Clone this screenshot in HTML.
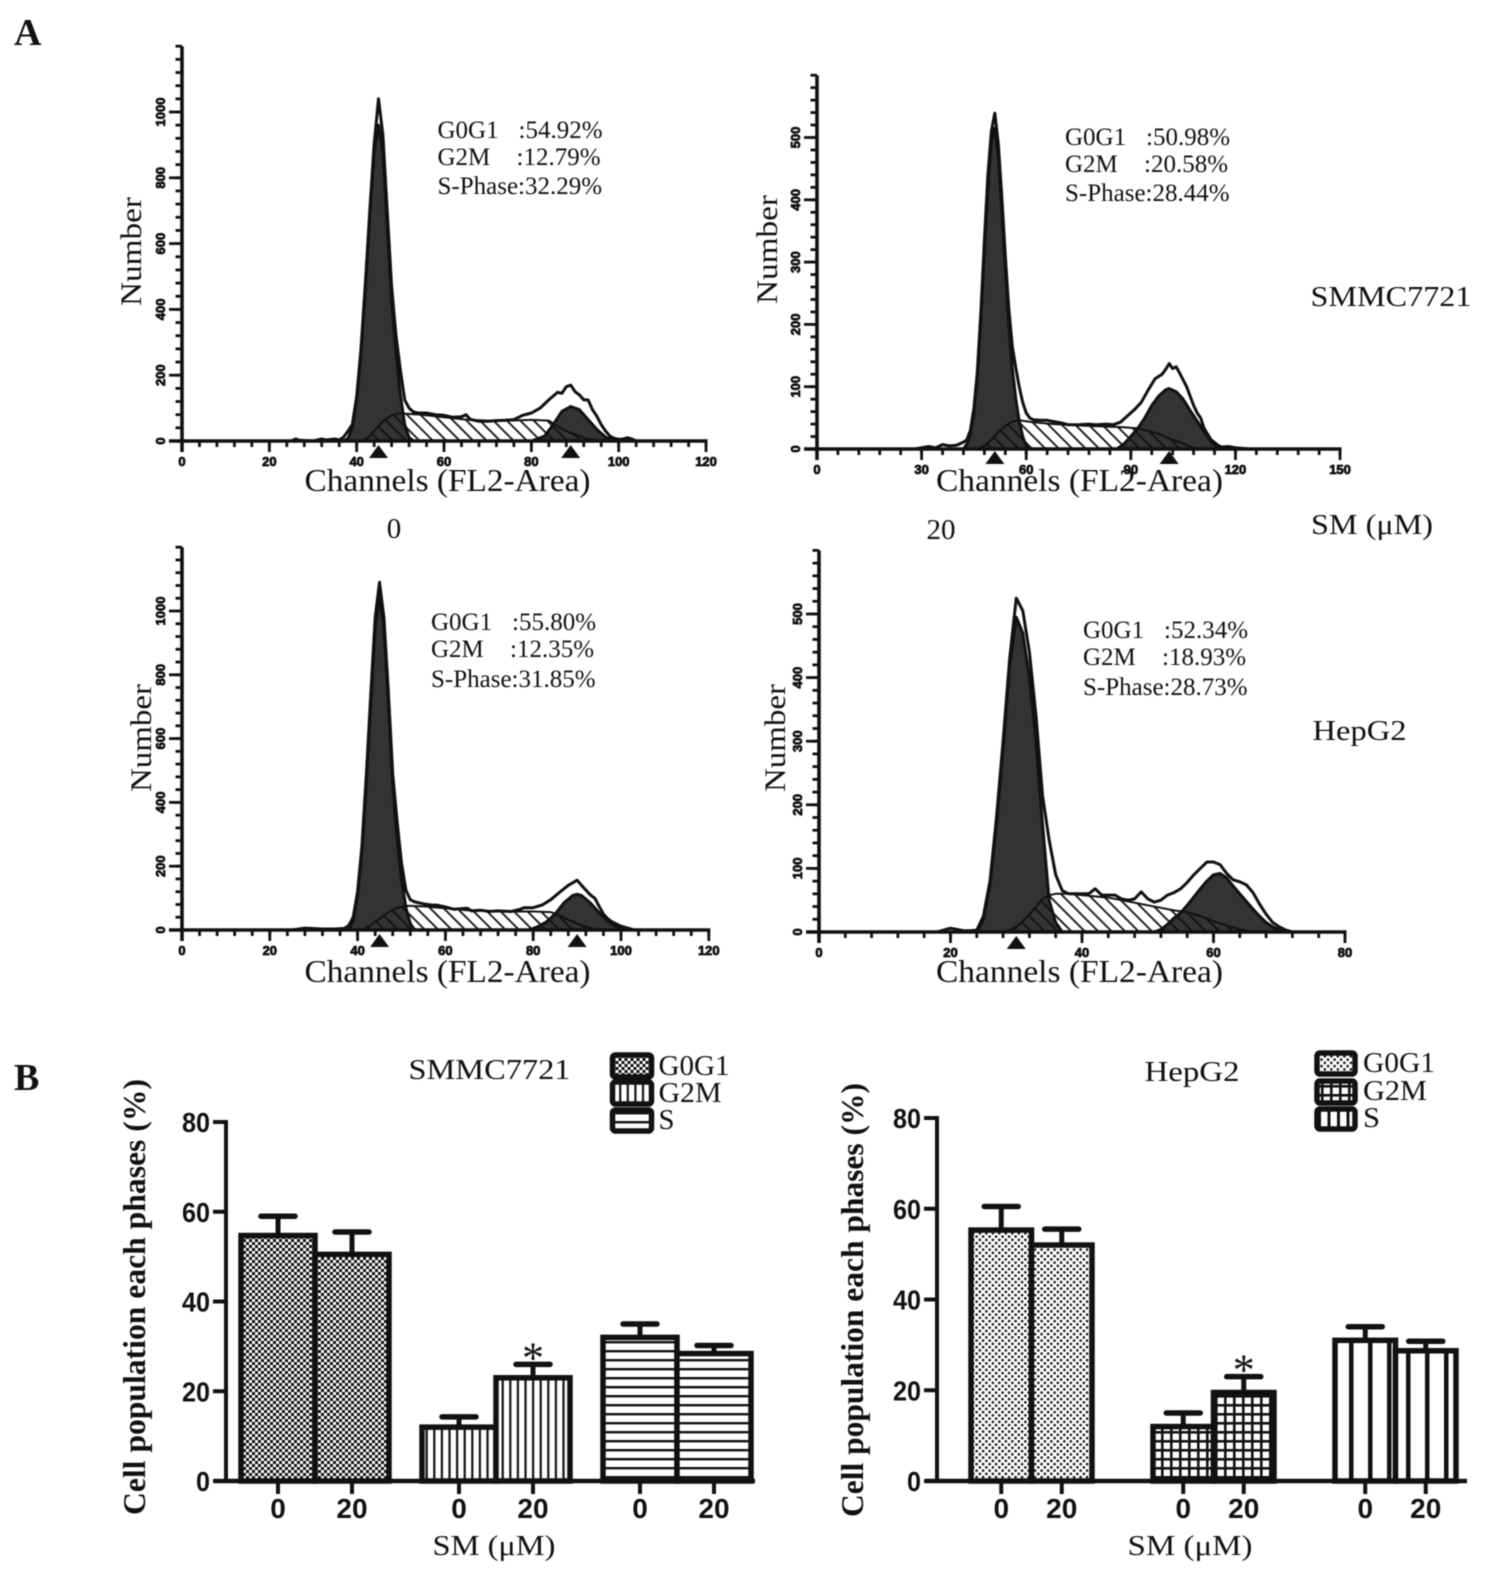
<!DOCTYPE html>
<html lang="en">
<head>
<meta charset="utf-8">
<title>Cell cycle distribution by flow cytometry</title>
<style>
html,body{margin:0;padding:0;background:#fff;}
#figure{display:block;width:1488px;height:1576px;filter:blur(.5px);}
text{font-family:"Liberation Serif",serif;fill:#111;}
.stat{font-size:25px;}
.chan{font-size:32px;}
.num{font-size:30px;}
.side{font-size:29px;}
.leg{font-size:28px;}
.ytitle{font-size:32px;font-weight:bold;}
</style>
</head>
<body>
<svg id="figure" xmlns="http://www.w3.org/2000/svg" width="1488" height="1576" viewBox="0 0 1488 1576">
<defs>
<pattern id="hatch" width="9.5" height="9.5" patternUnits="userSpaceOnUse" patternTransform="rotate(-45)"><line x1="4" y1="0" x2="4" y2="9.5" stroke="#111" stroke-width="1.8"/></pattern>
<pattern id="check" width="6" height="6" patternUnits="userSpaceOnUse"><rect width="6" height="6" fill="#fff"/><rect width="3" height="3" fill="#111"/><rect x="3" y="3" width="3" height="3" fill="#111"/></pattern>
<pattern id="vlines" width="7.6" height="8" patternUnits="userSpaceOnUse"><rect width="7.6" height="8" fill="#fff"/><rect width="2.2" height="8" fill="#111"/></pattern>
<pattern id="hlines" width="8" height="9" patternUnits="userSpaceOnUse"><rect width="8" height="9" fill="#fff"/><rect width="8" height="2.4" fill="#111"/></pattern>
<pattern id="dots" width="6.5" height="6.5" patternUnits="userSpaceOnUse"><rect width="6.5" height="6.5" fill="#fff"/><circle cx="1.6" cy="1.6" r="1.35" fill="#222"/><circle cx="4.85" cy="4.85" r="1.35" fill="#222"/></pattern>
<pattern id="grid" width="9" height="9" patternUnits="userSpaceOnUse"><rect width="9" height="9" fill="#fff"/><rect width="2.6" height="9" fill="#111"/><rect width="9" height="2.6" fill="#111"/></pattern>
<pattern id="vthick" width="19" height="8" patternUnits="userSpaceOnUse"><rect width="19" height="8" fill="#fff"/><rect width="4.5" height="8" fill="#111"/></pattern>
<pattern id="vlegend" width="9.5" height="8" patternUnits="userSpaceOnUse"><rect width="9.5" height="8" fill="#fff"/><rect width="3" height="8" fill="#111"/></pattern>
</defs>
<rect width="1488" height="1576" fill="#fff"/>

<text x="14" y="45" font-size="38" font-weight="bold">A</text>
<text x="14" y="1090" font-size="38" font-weight="bold">B</text>

<g id="plots"></g>

<!-- Panel A annotations -->
<g transform="translate(2.5,1)">
<text class="stat" x="435" y="137">G0G1</text><text class="stat" x="516" y="137">:54.92%</text>
<text class="stat" x="435" y="164">G2M</text><text class="stat" x="514" y="164">:12.79%</text>
<text class="stat" x="435" y="193">S-Phase:32.29%</text>
</g>
<g transform="translate(6,1)">
<text class="stat" x="1059" y="144">G0G1</text><text class="stat" x="1140" y="144">:50.98%</text>
<text class="stat" x="1059" y="171">G2M</text><text class="stat" x="1138" y="171">:20.58%</text>
<text class="stat" x="1059" y="200">S-Phase:28.44%</text>
</g>
<g transform="translate(3,3)">
<text class="stat" x="428" y="627">G0G1</text><text class="stat" x="509" y="627">:55.80%</text>
<text class="stat" x="428" y="654">G2M</text><text class="stat" x="507" y="654">:12.35%</text>
<text class="stat" x="428" y="684">S-Phase:31.85%</text>
</g>
<g transform="translate(6,4)">
<text class="stat" x="1077" y="634">G0G1</text><text class="stat" x="1158" y="634">:52.34%</text>
<text class="stat" x="1077" y="661">G2M</text><text class="stat" x="1156" y="661">:18.93%</text>
<text class="stat" x="1077" y="691">S-Phase:28.73%</text>
</g>

<text class="chan" x="304.5" y="491" textLength="286" lengthAdjust="spacingAndGlyphs">Channels (FL2-Area)</text>
<text class="chan" x="936" y="491" textLength="287" lengthAdjust="spacingAndGlyphs">Channels (FL2-Area)</text>
<text class="chan" x="304.5" y="982" textLength="286" lengthAdjust="spacingAndGlyphs">Channels (FL2-Area)</text>
<text class="chan" x="936" y="982" textLength="287" lengthAdjust="spacingAndGlyphs">Channels (FL2-Area)</text>

<text class="num" transform="translate(141,306) rotate(-90)" textLength="109" lengthAdjust="spacingAndGlyphs">Number</text>
<text class="num" transform="translate(777,304) rotate(-90)" textLength="109" lengthAdjust="spacingAndGlyphs">Number</text>
<text class="num" transform="translate(151,792) rotate(-90)" textLength="108" lengthAdjust="spacingAndGlyphs">Number</text>
<text class="num" transform="translate(785,792) rotate(-90)" textLength="108" lengthAdjust="spacingAndGlyphs">Number</text>

<text class="side" x="1310.5" y="306" textLength="161" lengthAdjust="spacingAndGlyphs">SMMC7721</text>
<text class="side" x="1312.5" y="740" textLength="94" lengthAdjust="spacingAndGlyphs">HepG2</text>
<text class="side" x="1311" y="534" textLength="122" lengthAdjust="spacingAndGlyphs">SM (μM)</text>
<text class="side" x="394" y="538" text-anchor="middle">0</text>
<text class="side" x="941" y="539" text-anchor="middle">20</text>

<!-- Panel B annotations -->
<text class="leg" x="408.5" y="1079" textLength="162" lengthAdjust="spacingAndGlyphs">SMMC7721</text>
<text class="leg" x="1144.5" y="1081" textLength="95" lengthAdjust="spacingAndGlyphs">HepG2</text>
<text class="ytitle" transform="translate(145,1515) rotate(-90)" textLength="436" lengthAdjust="spacingAndGlyphs">Cell population each phases (%)</text>
<text class="ytitle" transform="translate(863,1517) rotate(-90)" textLength="434" lengthAdjust="spacingAndGlyphs">Cell population each phases (%)</text>
<text class="leg" x="432.5" y="1555" textLength="123" lengthAdjust="spacingAndGlyphs">SM (μM)</text>
<text class="leg" x="1127.5" y="1555" textLength="125" lengthAdjust="spacingAndGlyphs">SM (μM)</text>

<g transform="translate(3.5,5)">
<rect x="609" y="1050" width="39" height="22" rx="3" fill="url(#check)" stroke="#111" stroke-width="5.5"/>
<text class="leg" x="655" y="1070" textLength="71" lengthAdjust="spacingAndGlyphs">G0G1</text>
<rect x="609" y="1077" width="39" height="22" rx="3" fill="url(#vlines)" stroke="#111" stroke-width="5.5"/>
<text class="leg" x="655" y="1097" textLength="63" lengthAdjust="spacingAndGlyphs">G2M</text>
<rect x="609" y="1105" width="39" height="21" rx="3" fill="url(#hlines)" stroke="#111" stroke-width="5.5"/>
<text class="leg" x="655" y="1124" textLength="16" lengthAdjust="spacingAndGlyphs">S</text>
</g>
<g transform="translate(7,5)">
<rect x="1310" y="1048" width="38" height="21" rx="3" fill="url(#dots)" stroke="#111" stroke-width="5.5"/>
<text class="leg" x="1356" y="1067" textLength="72" lengthAdjust="spacingAndGlyphs">G0G1</text>
<rect x="1310" y="1076" width="38" height="22" rx="3" fill="url(#grid)" stroke="#111" stroke-width="5.5"/>
<text class="leg" x="1356" y="1095" textLength="64" lengthAdjust="spacingAndGlyphs">G2M</text>
<rect x="1310" y="1104" width="38" height="20" rx="3" fill="url(#vlegend)" stroke="#111" stroke-width="5.5"/>
<text class="leg" x="1356" y="1122" textLength="17" lengthAdjust="spacingAndGlyphs">S</text>
</g>
</svg>

<script>
// ---------- Histogram data: SMMC7721, 0 uM ----------
const p1G1Channels=[37,38,39,40,41,42,43,44,45,46,47,48,49,50,51,52,53];
const p1G1Counts=[0,8,40,130,270,470,690,880,960,880,660,430,270,140,50,10,0];
const p1SChannels=[41,42,43,44,45,46,47,48,49,50,55,60,65,70,75,80,84,86,88,90,92,94,96];
const p1SCounts=[0,5,15,30,45,60,70,78,82,84,80,72,65,62,62,64,62,45,30,20,10,3,0];
const p1G2Channels=[80,83,85,87,89,91,93,95,97,99,100];
const p1G2Counts=[0,15,50,90,105,95,65,35,12,2,0];
const p1TotalChannels=[25,26,27,30,32,33,35,36,37,38,39,40,41,42,43,44,45,46,47,48,49,50,51,52,53,54,56,58,60,62,64,65,66,68,70,72,74,76,78,80,82,84,86,87,88,89,90,91,92,93,94,95,96,97,98,99,100,101,102,103,104];
const p1TotalCounts=[0,6,2,0,6,3,6,3,12,30,50,135,280,480,700,900,1040,930,700,470,320,215,125,100,88,85,85,80,78,72,74,80,66,60,60,62,63,65,78,85,100,125,148,145,165,170,150,140,125,125,95,75,50,30,15,8,5,6,10,6,0];
const p1XTicks=[0,20,40,60,80,100,120];
const p1YTicks=[0,200,400,600,800,1000];
const p1Markers=[45,89];

// ---------- Histogram data: SMMC7721, 20 uM ----------
const p2G1Channels=[42,43,44,45,46,47,48,49,50,51,52,53,54,55,56,57,58,59,60,61];
const p2G1Counts=[0,8,25,60,120,210,320,420,495,515,470,385,290,200,130,80,45,20,5,0];
const p2SChannels=[46,48,50,52,54,56,58,62,68,78,88,92,95,98,101,104,107,109];
const p2SCounts=[0,5,15,27,37,44,46,43,40,37,35,33,29,24,17,11,4,0];
const p2G2Channels=[86,88,90,92,94,96,98,100,101,103,105,107,109,111,113,115,116];
const p2G2Counts=[0,8,20,33,50,70,85,95,97,92,80,62,45,28,12,2,0];
const p2TotalChannels=[28,32,34,36,38,40,42,43,44,45,46,47,48,49,50,51,52,53,54,55,56,57,58,59,60,61,62,64,66,68,70,72,75,78,80,83,85,87,89,91,93,95,97,99,100,101,102,103,104,106,108,109,110,111,113,115,116,118,120,124];
const p2TotalCounts=[0,4,2,7,5,6,11,15,30,65,125,220,335,440,510,539,490,405,310,225,165,130,100,75,58,50,47,46,46,44,42,39,39,40,39,40,39,43,53,63,75,95,113,120,128,137,129,132,122,100,70,58,50,33,15,6,3,4,2,0];
const p2XTicks=[0,30,60,90,120,150];
const p2YTicks=[0,100,200,300,400,500];
const p2Markers=[51,101];

// ---------- Histogram data: HepG2, 0 uM ----------
const p3G1Channels=[38,39,40,41,42,43,44,45,46,47,48,49,50,51,52,53];
const p3G1Counts=[0,30,110,250,470,720,950,1050,950,720,460,290,160,70,20,0];
const p3SChannels=[41,43,45,47,49,51,55,60,65,70,75,80,84,86,88,90,92,94,96];
const p3SCounts=[0,15,35,55,70,76,74,68,62,60,58,58,56,45,32,20,10,3,0];
const p3G2Channels=[79,81,83,85,87,89,90,91,93,95,97,99,101,102];
const p3G2Counts=[0,10,25,50,85,108,112,108,85,55,28,10,2,0];
const p3TotalChannels=[25,28,32,35,37,38,39,40,41,42,43,44,45,46,47,48,49,50,51,52,53,55,57,58,60,62,65,66,68,70,72,75,77,78,80,82,84,86,88,89,90,91,92,93,94,95,96,97,98,100,102,103];
const p3TotalCounts=[0,6,3,3,5,14,40,120,265,490,740,980,1090,980,750,490,340,210,125,95,88,82,78,78,72,65,68,60,62,58,60,58,65,70,70,78,95,118,140,148,156,140,125,110,100,75,50,35,25,12,4,0];
const p3XTicks=[0,20,40,60,80,100,120];
const p3YTicks=[0,200,400,600,800,1000];
const p3Markers=[45,90];

// ---------- Histogram data: HepG2, 20 uM ----------
const p4G1Channels=[24,25,26,27,28,29,30,31,32,33,34,35,36,37];
const p4G1Counts=[0,20,75,170,290,420,495,470,400,300,170,50,15,0];
const p4SChannels=[28,29,30,31,32,33,34,35,36,38,40,42,44,46,48,50,52,54,56,58,60,62,64,66];
const p4SCounts=[0,3,8,17,28,40,52,58,60,60,58,56,54,50,46,42,38,34,31,25,17,10,4,0];
const p4G2Channels=[51,52,53,54,55,56,57,58,59,60,61,62,63,64,65,66,67,68,69,70,71];
const p4G2Counts=[0,4,12,22,30,42,55,68,80,90,92,85,72,60,48,36,25,15,8,3,0];
const p4TotalChannels=[18,19,20,21,22,23,24,25,26,27,28,29,30,31,32,33,34,35,36,37,38,40,41,42,43,45,46,47,48,49,50,51,52,53,54,55,56,57,58,59,60,61,62,63,64,65,66,67,68,69,70,71,72];
const p4TotalCounts=[0,3,6,4,2,2,3,25,80,180,300,430,525,505,440,340,215,145,90,65,60,60,60,68,58,58,52,50,52,63,52,47,50,58,62,68,78,90,100,110,110,106,92,82,79,74,62,44,28,15,8,3,0];
const p4XTicks=[0,20,40,60,80];
const p4YTicks=[0,100,200,300,400,500];
const p4Markers=[30];

// ---------- Bar chart data ----------
const doseLabels=['0','20','0','20','0','20'];
const percentTicks=[0,20,40,60,80];
const smmcMeans=[54.7,50.5,12,23,32,28.4];
const smmcErrorTops=[59,55.5,14.3,26,35,30.2];
const hepMeans=[55.3,52,12,19.5,31,28.7];
const hepErrorTops=[60.5,55.5,15,23,34,30.8];
const starredBars=[3];

const SVG_NS='http://www.w3.org/2000/svg';
const root=document.getElementById('plots');

function mk(parent,tag,attrs,txt){
  const el=document.createElementNS(SVG_NS,tag);
  for(const k in attrs){el.setAttribute(k,attrs[k]);}
  if(txt!==undefined){el.textContent=txt;}
  parent.appendChild(el);
  return el;
}

function histogram(name,cfg,d){
  const x=c=>cfg.x0+c*cfg.pxPerChannel;
  const y=v=>cfg.y0-v*cfg.pxPerCount;
  const g=mk(root,'g',{});
  
  

  const line=(chs,vals)=>chs.map((c,i)=>x(c).toFixed(1)+','+y(vals[i]).toFixed(1)).join(' ');
  const area=(chs,vals)=>x(chs[0]).toFixed(1)+','+y(0)+' '+line(chs,vals)+' '+x(chs[chs.length-1]).toFixed(1)+','+y(0);

  const sBack=mk(g,'polygon',{points:area(d.sCh,d.s),fill:'#fff'});
  
  

  const g1=mk(g,'polygon',{points:area(d.g1Ch,d.g1),fill:'#333','stroke':'#111','stroke-width':3,'stroke-linejoin':'round'});
  
  

  const g2=mk(g,'polygon',{points:area(d.g2Ch,d.g2),fill:'#333','stroke':'#111','stroke-width':3,'stroke-linejoin':'round'});
  
  

  const s=mk(g,'polygon',{points:area(d.sCh,d.s),fill:'url(#hatch)','stroke':'#111','stroke-width':2,'stroke-linejoin':'round'});
  
  

  const total=mk(g,'polyline',{points:line(d.totalCh,d.total),fill:'none','stroke':'#111','stroke-width':3,'stroke-linejoin':'round'});
  
  

  const xMax=d.xTicks[d.xTicks.length-1];
  const xAxis=mk(g,'line',{x1:cfg.x0-13,y1:y(0),x2:x(xMax)+1.5,y2:y(0),stroke:'#111','stroke-width':3.6});
  
  

  const yAxis=mk(g,'line',{x1:cfg.x0,y1:y(0)+11,x2:cfg.x0,y2:y(cfg.yMax),stroke:'#111','stroke-width':3.6});
  
  

  for(let c=0;c<=xMax;c+=cfg.xMinor){
    const t=mk(g,'line',{x1:x(c),y1:y(0),x2:x(c),y2:y(0)+6,stroke:'#111','stroke-width':2.8});
    
    
  }
  d.xTicks.forEach(v=>{
    const t=mk(g,'line',{x1:x(v),y1:y(0),x2:x(v),y2:y(0)+11,stroke:'#111','stroke-width':2.8});
    
    
    const lab=mk(g,'text',{x:x(v),y:y(0)+25,'text-anchor':'middle','font-size':13,'font-weight':'bold',style:'font-family:"Liberation Sans",sans-serif','stroke':'#111','stroke-width':.8},String(v));
    
    
  });
  for(let v=0;v<=cfg.yMax;v+=cfg.yMinor){
    const t=mk(g,'line',{x1:cfg.x0-6.5,y1:y(v),x2:cfg.x0,y2:y(v),stroke:'#111','stroke-width':2.8});
    
    
  }
  d.yTicks.forEach(v=>{
    const t=mk(g,'line',{x1:cfg.x0-13,y1:y(v),x2:cfg.x0,y2:y(v),stroke:'#111','stroke-width':2.8});
    
    
    const lx=cfg.x0-17;
    const lab=mk(g,'text',{x:lx,y:y(v),'text-anchor':'middle','font-size':13,'font-weight':'bold',style:'font-family:"Liberation Sans",sans-serif','stroke':'#111','stroke-width':.8,transform:'rotate(-90 '+lx+' '+y(v)+')'},String(v));
    
    
  });
  d.markers.forEach(c=>{
    const top=y(0)+cfg.markerGap;
    const m=mk(g,'polygon',{points:(x(c)-9.5)+','+(top+13)+' '+x(c)+','+top+' '+(x(c)+9.5)+','+(top+13),fill:'#111'});
    
    
  });
}

histogram('histogram-smmc-0',{x0:182,pxPerChannel:4.367,y0:441,pxPerCount:0.329,yMax:1200,yMinor:40,xMinor:4,markerGap:4},
  {g1Ch:p1G1Channels,g1:p1G1Counts,sCh:p1SChannels,s:p1SCounts,g2Ch:p1G2Channels,g2:p1G2Counts,totalCh:p1TotalChannels,total:p1TotalCounts,xTicks:p1XTicks,yTicks:p1YTicks,markers:p1Markers});
histogram('histogram-smmc-20',{x0:817,pxPerChannel:3.487,y0:449,pxPerCount:0.623,yMax:600,yMinor:20,xMinor:6,markerGap:2},
  {g1Ch:p2G1Channels,g1:p2G1Counts,sCh:p2SChannels,s:p2SCounts,g2Ch:p2G2Channels,g2:p2G2Counts,totalCh:p2TotalChannels,total:p2TotalCounts,xTicks:p2XTicks,yTicks:p2YTicks,markers:p2Markers});
histogram('histogram-hepg2-0',{x0:182,pxPerChannel:4.39,y0:930,pxPerCount:0.319,yMax:1200,yMinor:40,xMinor:4,markerGap:4},
  {g1Ch:p3G1Channels,g1:p3G1Counts,sCh:p3SChannels,s:p3SCounts,g2Ch:p3G2Channels,g2:p3G2Counts,totalCh:p3TotalChannels,total:p3TotalCounts,xTicks:p3XTicks,yTicks:p3YTicks,markers:p3Markers});
histogram('histogram-hepg2-20',{x0:819,pxPerChannel:6.575,y0:932,pxPerCount:0.636,yMax:600,yMinor:20,xMinor:4,markerGap:4},
  {g1Ch:p4G1Channels,g1:p4G1Counts,sCh:p4SChannels,s:p4SCounts,g2Ch:p4G2Channels,g2:p4G2Counts,totalCh:p4TotalChannels,total:p4TotalCounts,xTicks:p4XTicks,yTicks:p4YTicks,markers:p4Markers});

function barChart(name,cfg,means,errs,fills){
  const y=v=>cfg.y0-v*cfg.pxPerUnit;
  const left=i=>cfg.first+i*cfg.barW+Math.floor(i/2)*cfg.gap;
  const center=i=>left(i)+cfg.barW/2;
  const g=mk(root,'g',{});
  
  

  means.forEach((v,i)=>{
    const er=mk(g,'line',{x1:center(i),y1:y(v),x2:center(i),y2:y(errs[i]),stroke:'#111','stroke-width':5});
    
    
    const cap=mk(g,'line',{x1:center(i)-17,y1:y(errs[i]),x2:center(i)+17,y2:y(errs[i]),stroke:'#111','stroke-width':5.5,'stroke-linecap':'round'});
    
    
  });
  means.forEach((v,i)=>{
    const b=mk(g,'rect',{x:left(i),y:y(v),width:cfg.barW,height:y(0)-y(v),fill:fills[i],stroke:'#111','stroke-width':5.5});
    
    
    const t=mk(g,'line',{x1:center(i),y1:y(0),x2:center(i),y2:y(0)+13,stroke:'#111','stroke-width':4});
    
    
    const lab=mk(g,'text',{x:center(i),y:cfg.labelY,'text-anchor':'middle','font-size':28,'font-weight':'bold',style:'font-family:"Liberation Sans",sans-serif'},doseLabels[i]);
    
    
  });
  starredBars.forEach(i=>{
    const st=mk(g,'text',{x:center(i),y:y(errs[i])+8,'text-anchor':'middle','font-size':44},'*');
    
    
  });

  const xA=mk(g,'line',{x1:cfg.axisX-12,y1:y(0),x2:cfg.axisEnd,y2:y(0),stroke:'#111','stroke-width':4.5});
  
  
  const yA=mk(g,'line',{x1:cfg.axisX,y1:y(0),x2:cfg.axisX,y2:y(80)-2,stroke:'#111','stroke-width':4});
  
  
  percentTicks.forEach(v=>{
    const t=mk(g,'line',{x1:cfg.axisX-13,y1:y(v),x2:cfg.axisX,y2:y(v),stroke:'#111','stroke-width':4});
    
    
    const s=String(v);
    const lab=mk(g,'text',{x:cfg.axisX-16,y:y(v)+10,'text-anchor':'end','font-size':28,'font-weight':'bold',textLength:s.length*14,lengthAdjust:'spacingAndGlyphs',style:'font-family:"Liberation Sans",sans-serif'},s);
    
    
  });
}

barChart('bar-chart-smmc7721',{first:241,barW:74,gap:33,y0:1481,pxPerUnit:4.4875,axisX:226,axisEnd:755,labelY:1518},
  smmcMeans,smmcErrorTops,['url(#check)','url(#check)','url(#vlines)','url(#vlines)','url(#hlines)','url(#hlines)']);
barChart('bar-chart-hepg2',{first:971,barW:60.5,gap:61,y0:1481,pxPerUnit:4.5375,axisX:937,axisEnd:1467,labelY:1518},
  hepMeans,hepErrorTops,['url(#dots)','url(#dots)','url(#grid)','url(#grid)','url(#vthick)','url(#vthick)']);
</script>
</body>
</html>
